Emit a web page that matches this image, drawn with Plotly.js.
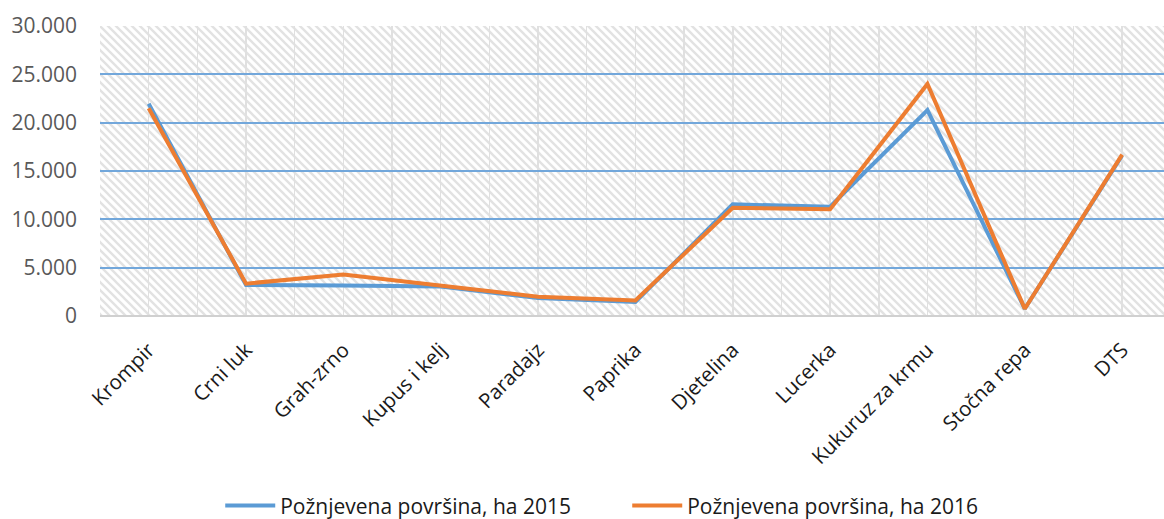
<!DOCTYPE html>
<html>
<head>
<meta charset="utf-8">
<script src="https://cdn.plot.ly/plotly-3.0.1.min.js"></script>
<style>
html,body{margin:0;padding:0;background:#fff;}
#chart{width:1164px;height:519px;}
</style>
</head>
<body>
<div id="chart"></div>
<script>
const categories = ["Krompir","Crni luk","Grah-zrno","Kupus i kelj","Paradajz","Paprika","Djetelina","Lucerka","Kukuruz za krmu","Stočna repa","DTS"];
const values2015 = [21950, 3200, 3150, 3050, 1850, 1450, 11550, 11300, 21300, 750, 16600];
const values2016 = [21500, 3350, 4300, 3150, 2000, 1600, 11200, 11050, 24000, 750, 16700];
const seriesNames = ["Požnjevena površina, ha 2015", "Požnjevena površina, ha 2016"];
const yTicks = [0, 5000, 10000, 15000, 20000, 25000, 30000];

const idx = categories.map((c, i) => i);

const hatch = '<svg xmlns="http://www.w3.org/2000/svg" width="1064" height="290">' +
  '<defs><pattern id="p" width="8" height="8" patternUnits="userSpaceOnUse">' +
  '<rect width="8" height="8" fill="#ffffff"/>' +
  '<path d="M-2,-2 L10,10 M-2,6 L2,10 M6,-2 L10,2" stroke="#e2e2e2" stroke-width="2.3"/>' +
  '</pattern></defs><rect width="1064" height="290" fill="url(#p)"/></svg>';
const hatchUri = 'data:image/svg+xml;charset=utf-8,' + encodeURIComponent(hatch);

const traces = [
  {x: idx, y: values2015, name: seriesNames[0], type: 'scatter', mode: 'lines',
   line: {color: '#5B9BD5', width: 4}, hoverinfo: 'skip'},
  {x: idx, y: values2016, name: seriesNames[1], type: 'scatter', mode: 'lines',
   line: {color: '#ED7D31', width: 4}, hoverinfo: 'skip'}
];

const layout = {
  width: 1164, height: 519,
  margin: {l: 100, r: 0, t: 26, b: 203, pad: 0, autoexpand: false},
  paper_bgcolor: '#ffffff',
  plot_bgcolor: 'rgba(0,0,0,0)',
  separators: ',.',
  font: {family: '"Open Sans", sans-serif', size: 20, color: '#595959'},
  images: [{source: hatchUri, xref: 'paper', yref: 'paper', x: 0, y: 1,
            sizex: 1, sizey: 1, xanchor: 'left', yanchor: 'top',
            sizing: 'stretch', layer: 'below'}],
  xaxis: {
    type: 'linear', range: [-0.5, 10.43], fixedrange: true,
    tickmode: 'array', tickvals: idx, ticktext: categories,
    tickangle: -45, ticks: '', ticklabelstandoff: 17,
    tickfont: {family: '"Open Sans", sans-serif', size: 20.5, color: '#1a1a1a'},
    showgrid: true, gridcolor: '#e0e0e0', gridwidth: 1.5,
    minor: {tickmode: 'linear', tick0: 0.5, dtick: 1, showgrid: true, gridcolor: '#e0e0e0', gridwidth: 1.5},
    showline: false, zeroline: false
  },
  yaxis: {
    range: [0, 30000], fixedrange: true,
    tickmode: 'array', tickvals: yTicks, tickformat: ',d',
    ticks: '', ticklabelstandoff: 22,
    tickfont: {family: '"Open Sans", sans-serif', size: 21, color: '#595959'},
    showgrid: true, gridcolor: '#72a7db', gridwidth: 1.8,
    zeroline: true, zerolinecolor: '#d0d0d0', zerolinewidth: 2,
    showline: false
  },
  showlegend: true,
  legend: {orientation: 'h', x: 0.113, xanchor: 'left', y: -0.655, yanchor: 'middle',
           font: {family: '"Open Sans", sans-serif', size: 21, color: '#1a1a1a'},
           itemwidth: 50, entrywidth: 342, entrywidthmode: 'pixels',
           tracegroupgap: 0, bgcolor: 'rgba(0,0,0,0)'}
};

Plotly.newPlot('chart', traces, layout, {displayModeBar: false, staticPlot: true});
</script>
</body>
</html>
